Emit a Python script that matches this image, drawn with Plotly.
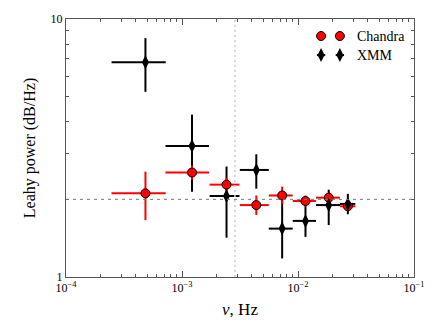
import plotly.graph_objects as go

# XMM points
xmm_f = [4.84e-4, 1.22e-3, 2.42e-3, 4.37e-3, 7.3e-3, 1.16e-2, 1.84e-2, 2.69e-2]
xmm_f_lo = [2.47e-4, 7.2e-4, 1.73e-3, 3.15e-3, 5.6e-3, 9.0e-3, 1.43e-2, 2.30e-2]
xmm_f_hi = [7.24e-4, 1.71e-3, 3.13e-3, 5.6e-3, 9.0e-3, 1.43e-2, 2.30e-2, 3.12e-2]
xmm_p = [6.8, 3.22, 2.06, 2.60, 1.54, 1.65, 1.90, 1.92]
xmm_p_lo = [5.22, 2.14, 1.42, 2.20, 1.18, 1.43, 1.59, 1.75]
xmm_p_hi = [8.43, 4.26, 2.68, 2.99, 1.97, 1.91, 2.18, 2.10]

# Chandra points
chan_f = [4.84e-4, 1.22e-3, 2.42e-3, 4.37e-3, 7.3e-3, 1.16e-2, 1.84e-2, 2.69e-2]
chan_f_lo = [2.47e-4, 7.2e-4, 1.73e-3, 3.15e-3, 5.6e-3, 9.0e-3, 1.43e-2, 2.30e-2]
chan_f_hi = [7.24e-4, 1.71e-3, 3.13e-3, 5.6e-3, 9.0e-3, 1.43e-2, 2.30e-2, 3.12e-2]
chan_p = [2.11, 2.54, 2.28, 1.90, 2.07, 1.97, 2.03, 1.88]
chan_p_lo = [1.66, 2.38, 2.14, 1.74, 1.92, 1.88, 1.94, 1.82]
chan_p_hi = [2.56, 2.70, 2.42, 2.07, 2.24, 2.07, 2.12, 1.94]

ref_level = 2.0
ref_freq = 2.86e-3

x_tickvals = [1e-4, 1e-3, 1e-2, 1e-1]
x_ticktext = ["10<sup>\u22124</sup>", "10<sup>\u22123</sup>", "10<sup>\u22122</sup>", "10<sup>\u22121</sup>"]
y_tickvals = [1, 10]
y_ticktext = ["1", "10"]

FONT = "Liberation Serif, Times New Roman, serif"


def errs(v, lo, hi):
    return ([h - c for c, h in zip(v, hi)], [c - l for c, l in zip(v, lo)])


fig = go.Figure()

# reference lines
fig.add_hline(y=ref_level, line=dict(color="#777", width=1, dash="3px,4px"))
fig.add_vline(x=ref_freq, line=dict(color="#ccc", width=1.5, dash="2px,3px"))

xp, xm = errs(xmm_f, xmm_f_lo, xmm_f_hi)
yp, ym = errs(xmm_p, xmm_p_lo, xmm_p_hi)
# XMM error bars first (under Chandra)
fig.add_trace(go.Scatter(
    x=xmm_f, y=xmm_p, mode="markers", showlegend=False,
    marker=dict(size=1, color="rgba(0,0,0,0)"),
    error_x=dict(type="data", array=xp, arrayminus=xm, color="black", thickness=2, width=0),
    error_y=dict(type="data", array=yp, arrayminus=ym, color="black", thickness=2, width=0),
))

cxp, cxm = errs(chan_f, chan_f_lo, chan_f_hi)
cyp, cym = errs(chan_p, chan_p_lo, chan_p_hi)
fig.add_trace(go.Scatter(
    x=chan_f, y=chan_p, mode="markers", name="Chandra", showlegend=False,
    marker=dict(symbol="circle", size=9, color="red", line=dict(color="black", width=1)),
    error_x=dict(type="data", array=cxp, arrayminus=cxm, color="red", thickness=2, width=0),
    error_y=dict(type="data", array=cyp, arrayminus=cym, color="red", thickness=2, width=0),
))

fig.add_trace(go.Scatter(
    x=xmm_f, y=xmm_p, mode="markers", name="XMM", showlegend=False,
    marker=dict(symbol="diamond-tall", size=10, color="black"),
))

# hand-made legend (two glyphs per entry, like the original)
leg_x = [0.733, 0.787]
for name, yy, sym, col in [("Chandra", 0.934, "circle", "red"),
                           ("XMM", 0.860, "diamond-tall", "black")]:
    fig.add_trace(go.Scatter(
        x=leg_x, y=[yy, yy], xaxis="x2", yaxis="y2", mode="markers", showlegend=False,
        hoverinfo="skip",
        marker=dict(symbol=sym, size=9 if sym == "circle" else 10, color=col,
                    line=dict(color="black", width=1 if sym == "circle" else 0)),
        error_x=dict(type="constant", value=0.012, color=col, thickness=2, width=0),
        error_y=dict(type="constant", value=0.018, color=col, thickness=2, width=0),
    ))
    fig.add_annotation(x=0.83, y=yy, xref="paper", yref="paper", text=name,
                       showarrow=False, xanchor="left", yanchor="middle",
                       font=dict(family=FONT, size=14, color="black"))

axis_common = dict(
    showgrid=False, zeroline=False, showline=True, linecolor="#555", linewidth=1,
    mirror="allticks", ticks="inside", ticklen=6, tickcolor="#555", tickwidth=1,
    tickfont=dict(family=FONT, size=12, color="black"),
)

fig.update_layout(
    width=436, height=327,
    margin=dict(l=66, r=21, t=16, b=50),
    paper_bgcolor="white", plot_bgcolor="white",
    showlegend=False,
    xaxis=dict(
        type="log", range=[-4, -1], tickmode="array",
        tickvals=x_tickvals, ticktext=x_ticktext,
        minor=dict(ticks="inside", ticklen=3, tickcolor="#555",
                   tickvals=[m * 10 ** e for e in (-4, -3, -2) for m in range(2, 10)]),
        title=dict(text="<i>\u03bd</i>, Hz", font=dict(family=FONT, size=17, color="black"), standoff=8),
        **axis_common,
    ),
    yaxis=dict(
        type="log", range=[0, 1], tickmode="array",
        tickvals=y_tickvals, ticktext=y_ticktext,
        minor=dict(ticks="inside", ticklen=3, tickcolor="#555", tickvals=list(range(2, 10))),
        title=dict(text="Leahy power (dB/Hz)", font=dict(family=FONT, size=16, color="black"), standoff=10),
        **axis_common,
    ),
    xaxis2=dict(overlaying="x", range=[0, 1], visible=False),
    yaxis2=dict(overlaying="y", range=[0, 1], visible=False),
)

fig.write_html("out.html", config={"displayModeBar": False},
               post_script="document.body.style.margin='0';")
